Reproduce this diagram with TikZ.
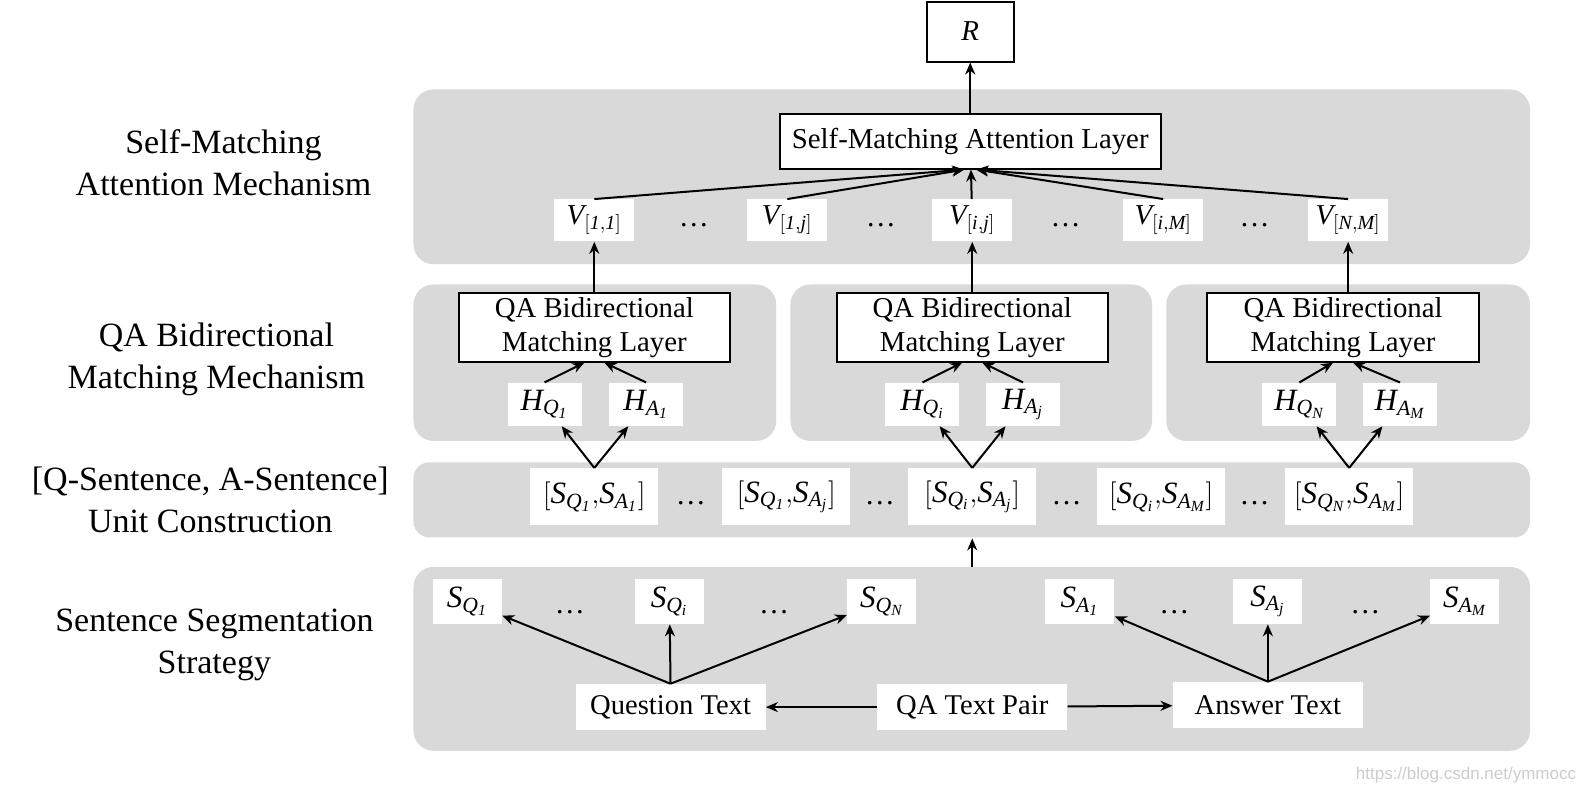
\documentclass[tikz,border=0pt]{standalone}
\usepackage{fontspec}
\setmainfont{Liberation Serif}
\setsansfont{Liberation Sans}
\usepackage{tikz}
\usetikzlibrary{arrows.meta}
\definecolor{bandgray}{RGB}{217,217,217}

\begin{document}
\begin{tikzpicture}[x=0.508pt, y=-0.508pt, font=\fontsize{14.4}{17}\selectfont,
  band/.style={fill=bandgray, rounded corners=10pt},
  layer box/.style={draw, line width=1pt, fill=white, align=center, inner sep=1pt},
  vec node/.style={fill=white, inner sep=1pt, minimum width=40pt, minimum height=21pt},
  h node/.style={fill=white, inner sep=1pt, minimum width=37pt, minimum height=21.5pt, font=\fontsize{15.5}{18}\selectfont},
  unit node/.style={fill=white, inner sep=2pt, minimum width=64pt, minimum height=28.5pt, font=\fontsize{15.5}{18}\selectfont},
  sent node/.style={fill=white, inner sep=1pt, minimum width=34.5pt, minimum height=22.5pt, font=\fontsize{15.5}{18}\selectfont},
  text node/.style={fill=white, inner sep=1pt, minimum width=95pt, minimum height=23pt, font=\fontsize{14.3}{17}\selectfont},
  dot node/.style={inner sep=0pt, font=\fontsize{15}{18}\selectfont},
  side label/.style={align=center, font=\fontsize{17}{20.8}\selectfont},
  arr/.style={line width=1pt, -{Stealth[length=6pt, width=5pt]}}]
\useasboundingbox (0,0) rectangle (1569,793);

\fill[band] (407,88) rectangle (1506,260);
\fill[band] (407,280) rectangle (764,434);
\fill[band] (778,280) rectangle (1134,434);
\fill[band] (1148,280) rectangle (1506,434);
\fill[band, rounded corners=8pt] (407,455) rectangle (1506,529);
\fill[band] (407,558) rectangle (1506,739);

\node[side label] (l1) at (220,160) {Self-Matching\\Attention Mechanism};
\node[side label] (l2) at (213,354) {QA Bidirectional\\Matching Mechanism};
\node[side label] (l3) at (207,492) {[Q-Sentence, A-Sentence]\\Unit Construction};
\node[side label] (l4) at (211,635) {Sentence Segmentation\\Strategy};

\node[layer box, minimum width=43.7pt, minimum height=30pt] (r) at (955,31) {$\mathit{R}$};
\node[layer box, minimum width=190.5pt, minimum height=27.4pt] (sma) at (955,139) {Self-Matching Attention Layer};

\node[vec node] (v1) at (585,217) {$\mathit{V}_{[\mathit{1{,}1}]}$};
\node[vec node] (v2) at (775,217) {$\mathit{V}_{[\mathit{1{,}j}]}$};
\node[vec node] (v3) at (957,217) {$\mathit{V}_{[\mathit{i{,}j}]}$};
\node[vec node] (v4) at (1145,217) {$\mathit{V}_{[\mathit{i{,}M}]}$};
\node[vec node] (v5) at (1327,217) {$\mathit{V}_{[\mathit{N{,}M}]}$};
\node[dot node] (vd1) at (683,222) {…};
\node[dot node] (vd2) at (867,222) {…};
\node[dot node] (vd3) at (1049,222) {…};
\node[dot node] (vd4) at (1235,222) {…};

\node[layer box, minimum width=135.6pt, minimum height=34.5pt] (qa1) at (585,322) {QA Bidirectional\\Matching Layer};
\node[layer box, minimum width=135.6pt, minimum height=34.5pt] (qa2) at (957,322) {QA Bidirectional\\Matching Layer};
\node[layer box, minimum width=135.6pt, minimum height=34.5pt] (qa3) at (1322,322) {QA Bidirectional\\Matching Layer};

\node[h node] (hq1) at (536,398) {$\mathit{H}_{\mathit{Q}_{\mathit{1}}}$};
\node[h node] (ha1) at (636,398) {$\mathit{H}_{\mathit{A}_{\mathit{1}}}$};
\node[h node] (hq2) at (908,398) {$\mathit{H}_{\mathit{Q}_{\mathit{i}}}$};
\node[h node] (ha2) at (1007,398) {$\mathit{H}_{\mathit{A}_{\mathit{j}}}$};
\node[h node] (hq3) at (1279,398) {$\mathit{H}_{\mathit{Q}_{\mathit{N}}}$};
\node[h node] (ha3) at (1378,398) {$\mathit{H}_{\mathit{A}_{\mathit{M}}}$};

\node[unit node] (u1) at (585,489) {$[\mathit{S}_{\mathit{Q}_{\mathit{1}}}{,}\mathit{S}_{\mathit{A}_{\mathit{1}}}]$};
\node[unit node] (u2) at (774,489) {$[\mathit{S}_{\mathit{Q}_{\mathit{1}}}{,}\mathit{S}_{\mathit{A}_{\mathit{j}}}]$};
\node[unit node] (u3) at (957,489) {$[\mathit{S}_{\mathit{Q}_{\mathit{i}}}{,}\mathit{S}_{\mathit{A}_{\mathit{j}}}]$};
\node[unit node] (u4) at (1143,489) {$[\mathit{S}_{\mathit{Q}_{\mathit{i}}}{,}\mathit{S}_{\mathit{A}_{\mathit{M}}}]$};
\node[unit node] (u5) at (1328,489) {$[\mathit{S}_{\mathit{Q}_{\mathit{N}}}{,}\mathit{S}_{\mathit{A}_{\mathit{M}}}]$};
\node[dot node] (ud1) at (680,495) {…};
\node[dot node] (ud2) at (866,495) {…};
\node[dot node] (ud3) at (1050,495) {…};
\node[dot node] (ud4) at (1235,495) {…};

\coordinate (ub) at (957,530);
\coordinate (bt) at (957,558);

\node[sent node] (sq1) at (460,592) {$\mathit{S}_{\mathit{Q}_{\mathit{1}}}$};
\node[sent node] (sq2) at (659,592) {$\mathit{S}_{\mathit{Q}_{\mathit{i}}}$};
\node[sent node] (sq3) at (868,592) {$\mathit{S}_{\mathit{Q}_{\mathit{N}}}$};
\node[sent node] (sa1) at (1063,592) {$\mathit{S}_{\mathit{A}_{\mathit{1}}}$};
\node[sent node] (sa2) at (1248,592) {$\mathit{S}_{\mathit{A}_{\mathit{j}}}$};
\node[sent node] (sa3) at (1442,592) {$\mathit{S}_{\mathit{A}_{\mathit{M}}}$};
\node[dot node] (sd1) at (561,603) {…};
\node[dot node] (sd2) at (762,603) {…};
\node[dot node] (sd3) at (1156,603) {…};
\node[dot node] (sd4) at (1344,603) {…};

\node[text node] (qt) at (660,696) {Question Text};
\node[text node] (pair) at (957,696) {QA Text Pair};
\node[text node] (at) at (1248,694) {Answer Text};

\node[text=gray!40, font=\sffamily\fontsize{8.5}{10}\selectfont] (wm) at (1443,763) {https://blog.csdn.net/ymmocc};

\path[arr]
(sma) edge (r)
(v1.north) edge ([xshift=-3pt]sma.south)
(v2.north) edge ([xshift=-3pt]sma.south)
(v3) edge (sma)
(v4.north) edge ([xshift=3pt]sma.south)
(v5.north) edge ([xshift=3pt]sma.south)
(qa1) edge (v1)
(qa2) edge (v3)
(qa3.north -| v5) edge (v5)
(hq1.north) edge ([xshift=-5pt]qa1.south)
(ha1.north) edge ([xshift=5pt]qa1.south)
(hq2.north) edge ([xshift=-5pt]qa2.south)
(ha2.north) edge ([xshift=5pt]qa2.south)
(hq3.north) edge ([xshift=-5pt]qa3.south)
(ha3.north) edge ([xshift=5pt]qa3.south)
(u1.north) edge (hq1)
(u1.north) edge (ha1)
(u3.north) edge (hq2)
(u3.north) edge (ha2)
(u5.north) edge (hq3)
(u5.north) edge (ha3)
(bt) edge (ub)
(qt.north) edge (sq1)
(qt.north) edge (sq2)
(qt.north) edge (sq3)
(at.north) edge (sa1)
(at.north) edge (sa2)
(at.north) edge (sa3)
(pair) edge (qt)
(pair) edge (at);
\end{tikzpicture}
\end{document}
